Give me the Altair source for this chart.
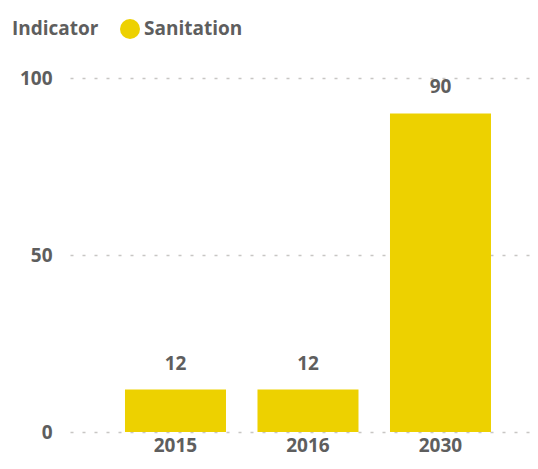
import altair as alt
import pandas as pd

years = ["2015", "2016", "2030"]
values = [12, 12, 90]
indicator = ["Sanitation", "Sanitation", "Sanitation"]

df = pd.DataFrame({"Year": years, "Value": values, "Indicator": indicator})

TXT = "#5E5E5E"
FONT = "Open Sans"
FS = 19

base = alt.Chart(df).encode(
    x=alt.X("Year:N", title=None,
            scale=alt.Scale(paddingInner=0.2377, paddingOuter=0.3547, align=0.585),
            axis=alt.Axis(labelAngle=0, domain=False, ticks=False, labelFontSize=FS,
                          labelFontWeight="bold", labelColor=TXT, labelFont=FONT, labelPadding=4)),
    y=alt.Y("Value:Q", title=None, scale=alt.Scale(domain=[0, 100]),
            axis=alt.Axis(values=[0, 50, 100], domain=False, ticks=False, labelFontSize=FS,
                          labelFontWeight="bold", labelColor=TXT, labelFont=FONT, labelPadding=18,
                          gridDash=[3, 9], gridColor="#C8C6C4", gridWidth=1.5)),
)

bars = base.mark_bar(color="#EDD100").encode(
    color=alt.Color("Indicator:N", scale=alt.Scale(range=["#EDD100"]),
                    legend=alt.Legend(title="Indicator", orient="none", direction="horizontal",
                                      titleOrient="left", legendX=-58, legendY=-60,
                                      symbolType="circle", symbolSize=400,
                                      titleFontSize=FS, titleFontWeight="bold", titleColor=TXT,
                                      titleFont=FONT, labelFont=FONT, labelFontSize=FS,
                                      labelFontWeight="bold", labelColor=TXT, titlePadding=20,
                                      labelOffset=3))
)

labels = base.mark_text(dy=-16, fontSize=FS, fontWeight="bold", color=TXT, font=FONT,
                        baseline="bottom").encode(text="Value:Q")

chart = (bars + labels).properties(
    width=460, height=354,
    autosize=alt.AutoSizeParams(type="none"),
    padding={"left": 62, "top": 70, "right": 0, "bottom": 29},
).configure_view(stroke=None)

chart.save("out.html", embed_options={"renderer": "svg", "actions": False})
